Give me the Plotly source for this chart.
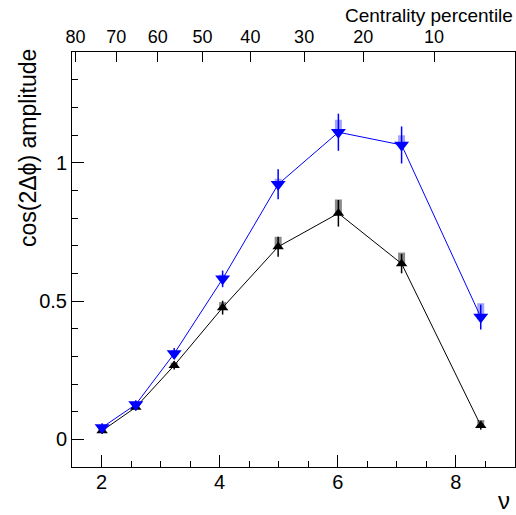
import plotly.graph_objects as go

nu = [2.01, 2.58, 3.23, 4.05, 4.99, 6.01, 7.08, 8.42]
blue_y = [0.043, 0.126, 0.31, 0.58, 0.922, 1.11, 1.064, 0.442]
blue_stat = [0.015, 0.015, 0.02, 0.03, 0.054, 0.067, 0.067, 0.045]
blue_sys_up = [0.01, 0.01, 0.01, 0.015, 0.02, 0.045, 0.035, 0.05]
black_y = [0.031, 0.116, 0.267, 0.476, 0.696, 0.817, 0.635, 0.05]
black_stat = [0.012, 0.012, 0.015, 0.025, 0.036, 0.048, 0.035, 0.015]
black_sys_up = [0.008, 0.008, 0.01, 0.02, 0.036, 0.05, 0.04, 0.02]

cent_labels = ["80", "70", "60", "50", "40", "30", "20", "10"]
cent_nu = [1.56, 2.25, 2.95, 3.71, 4.52, 5.43, 6.43, 7.63]

zeros = [0] * len(nu)

fig = go.Figure()
# systematic boxes
fig.add_trace(go.Scatter(x=nu, y=blue_y, mode="markers", marker=dict(size=1, opacity=0),
                         error_y=dict(type="data", array=blue_sys_up, arrayminus=zeros,
                                      color="rgba(90,90,255,0.55)", thickness=7, width=0),
                         showlegend=False, hoverinfo="skip"))
fig.add_trace(go.Scatter(x=nu, y=black_y, mode="markers", marker=dict(size=1, opacity=0),
                         error_y=dict(type="data", array=black_sys_up, arrayminus=zeros,
                                      color="rgba(60,60,60,0.6)", thickness=7, width=0),
                         showlegend=False, hoverinfo="skip"))
fig.add_trace(go.Scatter(x=nu, y=black_y, mode="lines+markers",
                         line=dict(color="black", width=1),
                         marker=dict(symbol="triangle-up", size=10, color="black"),
                         error_y=dict(type="data", array=black_stat, color="black", thickness=1.5, width=0),
                         showlegend=False))
fig.add_trace(go.Scatter(x=nu, y=blue_y, mode="lines+markers",
                         line=dict(color="blue", width=1),
                         marker=dict(symbol="triangle-down", size=13, color="blue"),
                         error_y=dict(type="data", array=blue_stat, color="blue", thickness=1.5, width=0),
                         showlegend=False))
# dummy trace for top axis
fig.add_trace(go.Scatter(x=[2], y=[0], xaxis="x2", mode="markers", marker=dict(opacity=0),
                         showlegend=False, hoverinfo="skip"))

font = "Liberation Sans, Arial, sans-serif"
fig.update_layout(
    width=516, height=515,
    margin=dict(l=72, r=1, t=52, b=48),
    plot_bgcolor="white", paper_bgcolor="white",
    font=dict(family=font, color="black"),
    xaxis=dict(range=[1.5, 9.0], tickvals=[2, 4, 6, 8], ticks="inside", ticklen=12,
               tickcolor="black", tickfont=dict(size=20), showgrid=False, zeroline=False,
               showline=True, linecolor="black", linewidth=1, mirror=False,
               ticklabelstandoff=-3,
               minor=dict(dtick=0.5, tick0=0, ticks="inside", ticklen=6, tickcolor="black")),
    xaxis2=dict(range=[1.5, 9.0], overlaying="x", side="top", tickvals=cent_nu, ticktext=cent_labels,
                ticks="inside", ticklen=10, tickcolor="black", tickfont=dict(size=18),
                ticklabelstandoff=1,
                showgrid=False, zeroline=False, showline=True, linecolor="black", linewidth=1),
    yaxis=dict(range=[-0.1, 1.4], tickvals=[0, 0.5, 1], ticktext=["0", "0.5", "1"],
               ticks="inside", ticklen=12, tickcolor="black", tickfont=dict(size=20),
               showgrid=False, zeroline=False, showline=True, linecolor="black", linewidth=1,
               mirror=True,
               minor=dict(dtick=0.1, tick0=0, ticks="inside", ticklen=6, tickcolor="black")),
    annotations=[
        dict(text="Centrality percentile", xref="paper", yref="paper", x=1.0, y=1.0,
             yshift=37, xanchor="right", yanchor="middle", showarrow=False, font=dict(size=19)),
        dict(text="cos(2Δϕ) amplitude", xref="paper", yref="paper", x=0, xshift=-44,
             y=1.0, yshift=5, xanchor="center", yanchor="top", textangle=-90,
             showarrow=False, font=dict(size=23)),
        dict(text="ν", xref="paper", yref="paper", x=1.0, xshift=-11, y=0, yshift=-33,
             xanchor="center", yanchor="middle", showarrow=False, font=dict(size=24)),
    ],
)
fig.write_html("out.html")
